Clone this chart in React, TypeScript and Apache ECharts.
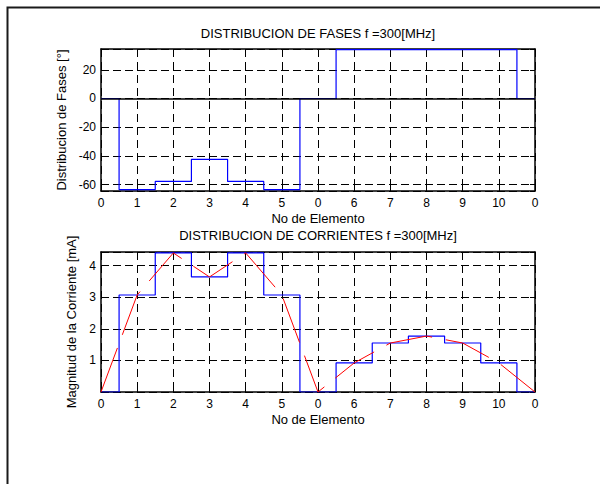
import React, { useEffect, useRef } from "react";
import * as echarts from "echarts";

// ---- data ----
const xLabels = ["0", "1", "2", "3", "4", "5", "0", "6", "7", "8", "9", "10", "0"];
const phaseValues = [0, -63.5, -57.8, -42.4, -57.8, -63.5, 0, 34, 34, 34, 34, 34, 0];
const currentValues = [0, 3.07, 4.4, 3.64, 4.4, 3.07, 0, 0.92, 1.55, 1.77, 1.55, 0.92, 0];
const phaseTickStep = 20;
const currentTickStep = 1;

const topTitle = "DISTRIBUCION DE FASES f =300[MHz]";
const bottomTitle = "DISTRIBUCION DE CORRIENTES f =300[MHz]";
const xName = "No de Elemento";
const phaseName = "Distribucion de Fases [°]";
const currentName = "Magnitud de la Corriente [mA]";

const FONT = "'Liberation Sans', Arial, Helvetica, sans-serif";
const FS = 13;
const TFS = 12;

const axisLine = { show: true, onZero: false, lineStyle: { color: "#000", width: 1.5 } };
const tick = { show: true, inside: true, length: 5, lineStyle: { color: "#000", width: 1 } };
const grid = (type: number[]) => ({ show: true, lineStyle: { color: "#000", width: 1, type } });

function mainX(gridIndex: number) {
  return {
    type: "value",
    gridIndex,
    position: "bottom",
    min: 0,
    max: xLabels.length - 1,
    interval: 1,
    axisLine,
    axisTick: tick,
    axisLabel: {
      color: "#000",
      fontFamily: FONT,
      fontSize: TFS,
      margin: 6,
      formatter: (v: number) => xLabels[Math.round(v)] ?? "",
    },
    splitLine: grid([8, 5]),
    name: xName,
    nameLocation: "middle",
    nameGap: 21,
    nameTextStyle: { color: "#000", fontFamily: FONT, fontSize: FS },
  };
}
function topX(gridIndex: number) {
  return {
    type: "value",
    gridIndex,
    position: "top",
    min: 0,
    max: xLabels.length - 1,
    interval: 1,
    axisLine,
    axisTick: tick,
    axisLabel: { show: false },
    splitLine: { show: false },
  };
}
function leftY(gridIndex: number, min: number, max: number, step: number, name: string, gap: number) {
  return {
    type: "value",
    gridIndex,
    position: "left",
    min,
    max,
    axisLine,
    axisTick: tick,
    axisLabel: {
      color: "#000",
      fontFamily: FONT,
      fontSize: TFS,
      margin: 5,
      showMinLabel: false,
      showMaxLabel: false,
      formatter: (v: number) => (Math.abs(v / step - Math.round(v / step)) < 1e-6 ? String(Math.round(v)) : ""),
    },
    splitLine: grid([8, 4]),
    name,
    nameLocation: "middle",
    nameRotate: 90,
    nameGap: gap,
    nameTextStyle: { color: "#000", fontFamily: FONT, fontSize: FS },
  };
}
function rightY(gridIndex: number, min: number, max: number) {
  return {
    type: "value",
    gridIndex,
    position: "right",
    min,
    max,
    axisLine,
    axisTick: tick,
    axisLabel: { show: false },
    splitLine: { show: false },
  };
}

export default function App() {
  const ref = useRef<HTMLDivElement>(null);
  useEffect(() => {
    if (!ref.current) return;
    const chart = echarts.init(ref.current, undefined, { renderer: "svg" });
    const option: any = {
      animation: false,
      backgroundColor: "#fff",
      grid: [
        { left: 101, top: 49, width: 434, height: 142 },
        { left: 101, top: 252, width: 434, height: 140 },
      ],
      xAxis: [mainX(0), topX(0), mainX(1), topX(1)],
      yAxis: [
        leftY(0, -64.5, 34.5, phaseTickStep, phaseName, 31),
        rightY(0, -64.5, 34.5),
        leftY(1, 0, 4.43, currentTickStep, currentName, 18),
        rightY(1, 0, 4.43),
      ],
      graphic: [
        {
          type: "rect",
          shape: { x: 7.5, y: 7.5, width: 800, height: 800 },
          style: { fill: "none", stroke: "#1a1a1a", lineWidth: 2 },
          silent: true,
        },
        {
          type: "text",
          x: 318,
          y: 33,
          style: { text: topTitle, align: "center", verticalAlign: "middle", fill: "#000", font: `${FS}px ${FONT}` },
        },
        {
          type: "text",
          x: 318,
          y: 235,
          style: { text: bottomTitle, align: "center", verticalAlign: "middle", fill: "#000", font: `${FS}px ${FONT}` },
        },
      ],
      series: [
        {
          type: "line",
          xAxisIndex: 0,
          yAxisIndex: 0,
          step: "middle",
          showSymbol: false,
          symbol: "none",
          data: phaseValues.map((v, i) => [i, v]),
          lineStyle: { color: "#0000ff", width: 1.2 },
          markLine: {
            silent: true,
            symbol: "none",
            label: { show: false },
            lineStyle: { color: "#000", type: "solid", width: 1.5 },
            data: [{ yAxis: 0 }],
          },
        },
        {
          type: "line",
          xAxisIndex: 2,
          yAxisIndex: 2,
          step: "middle",
          showSymbol: false,
          symbol: "none",
          data: currentValues.map((v, i) => [i, v]),
          lineStyle: { color: "#0000ff", width: 1.2 },
        },
        {
          type: "line",
          xAxisIndex: 2,
          yAxisIndex: 2,
          showSymbol: false,
          symbol: "none",
          data: currentValues.map((v, i) => [i, v]),
          lineStyle: { color: "#ff0000", width: 1, type: [47, 14] },
        },
      ],
    };
    chart.setOption(option);
    return () => chart.dispose();
  }, []);
  return (
    <div
      ref={ref}
      style={{ position: "fixed", left: 0, top: 0, width: 600, height: 484, background: "#fff" }}
    />
  );
}
